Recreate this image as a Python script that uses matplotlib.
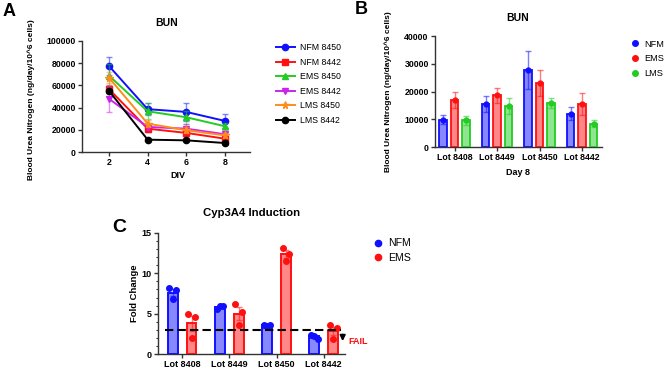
import numpy as np
import matplotlib
matplotlib.use('Agg')
import matplotlib.pyplot as plt
from matplotlib.ticker import MultipleLocator

plt.rcParams['font.family'] = ['Liberation Sans', 'DejaVu Sans']

# ── Datos panel A: BUN vs DIV ───────────────────────────────────────────────
div = [2, 4, 6, 8]
a_names = ['NFM 8450', 'NFM 8442', 'EMS 8450', 'EMS 8442', 'LMS 8450', 'LMS 8442']
a_means = [
    [77400, 38600, 36100, 28000],
    [56600, 21000, 17200, 12000],
    [68700, 36700, 31300, 23200],
    [47900, 22600, 21000, 16000],
    [66900, 25600, 19600, 15000],
    [55000, 11100, 10500, 8100],
]
a_errs = [
    [8000, 5500, 7800, 6500],
    [3500, 3000, 2500, 2500],
    [11000, 7000, 6000, 3000],
    [11500, 3000, 4000, 2500],
    [5000, 3000, 2500, 2000],
    [2000, 1000, 1000, 1000],
]

# ── Datos panel B: BUN día 8 ────────────────────────────────────────────────
lots = ['Lot 8408', 'Lot 8449', 'Lot 8450', 'Lot 8442']
b_nfm = [9900, 15500, 27700, 12000]
b_nfm_err = [1600, 2800, 6800, 2300]
b_ems = [16900, 18600, 23100, 15500]
b_ems_err = [2900, 2800, 4600, 3900]
b_lms = [9600, 14900, 15800, 8400]
b_lms_err = [1700, 2900, 1900, 1200]

# ── Datos panel C: inducción Cyp3A4 ─────────────────────────────────────────
c_nfm = [7.6, 5.8, 3.58, 2.2]
c_nfm_err = [0.4, 0.12, 0.05, 0.15]
c_nfm_pts = [[8.2, 7.9, 6.8], [5.6, 6.0, 5.9], [3.6, 3.65, 3.5], [2.4, 1.9, 2.2]]
c_ems = [3.8, 5.0, 12.35, 2.85]
c_ems_err = [0.9, 0.8, 0.5, 0.55]
c_ems_pts = [[5.0, 4.55, 2.0], [6.25, 5.2, 3.65], [13.2, 12.4, 11.5], [3.65, 3.2, 1.8]]
fail_line = 3

BLUE = '#1010ff'
RED = '#ff1010'
GREEN = '#22cc22'
a_colors = [BLUE, RED, GREEN, '#cc22ee', '#ff8c1a', 'black']
a_markers = ['o', 's', '^', 'v', '*', 'o']

W, H = 669, 373
fig = plt.figure(figsize=(W / 100, H / 100), dpi=100)


def px_axes(l, t, r, b):
    return fig.add_axes([l / W, 1 - b / H, (r - l) / W, (b - t) / H])


def ftext(x, y, s, **kw):
    fig.text(x / W, 1 - y / H, s, ha='center', va='center', **kw)


def style(ax, fs=6.3):
    for s in ['top', 'right']:
        ax.spines[s].set_visible(False)
    for s in ['left', 'bottom']:
        ax.spines[s].set_linewidth(1.0)
        ax.spines[s].set_color('#333333')
    ax.tick_params(length=3, width=1.0, color='#333333', labelsize=fs, pad=1.5)
    for lb in ax.get_xticklabels() + ax.get_yticklabels():
        lb.set_fontweight('bold')


# ── Panel A ─────────────────────────────────────────────────────────────────
axA = px_axes(82, 41, 250, 152)
for name, m, e, c, mk in zip(a_names, a_means, a_errs, a_colors, a_markers):
    axA.errorbar(div, m, yerr=e, fmt='none', ecolor=c, alpha=0.5,
                 elinewidth=1, capsize=2.5, capthick=1)
    axA.plot(div, m, color=c, marker=mk, ms=4.5 if mk != '*' else 5.5,
             lw=1.4, label=name)
axA.set_xlim(0.6, 9.3)
axA.set_ylim(0, 100000)
axA.set_xticks(div)
axA.set_yticks(np.arange(0, 100001, 20000))
style(axA)
axA.set_ylabel('Blood Urea Nitrogen (ng/day/10^6 cells)', fontsize=6, fontweight='bold')
axA.yaxis.set_label_coords(-0.28, 0.47)
axA.set_xlabel('DIV', fontsize=6.5, fontweight='bold')
axA.xaxis.set_label_coords(0.57, -0.17)
axA.legend(loc='upper left', bbox_to_anchor=(272 / W, 1 - 40 / H),
           bbox_transform=fig.transFigure, frameon=False, fontsize=6.3,
           handlelength=2.2, labelspacing=0.62, handletextpad=0.6,
           borderaxespad=0)
ftext(167, 23, 'BUN', fontsize=7.5, fontweight='bold')
ftext(9, 12, 'A', fontsize=13, fontweight='bold')

# ── Panel B ─────────────────────────────────────────────────────────────────
axB = px_axes(435, 36, 602, 147)
x = np.arange(len(lots))
bw, off = 0.18, 0.27
for vals, errs, c, dx, lab in [(b_nfm, b_nfm_err, BLUE, -off, 'NFM'),
                               (b_ems, b_ems_err, RED, 0, 'EMS'),
                               (b_lms, b_lms_err, GREEN, off, 'LMS')]:
    axB.bar(x + dx, vals, width=bw, color=c, alpha=0.5, zorder=2)
    axB.bar(x + dx, vals, width=bw, facecolor='none', edgecolor=c, lw=1.3, zorder=3)
    axB.errorbar(x + dx, vals, yerr=errs, fmt='none', ecolor=c, alpha=0.55,
                 elinewidth=1, capsize=2, capthick=1, zorder=4)
    axB.plot(x + dx, vals, 'o', color=c, ms=3.5, zorder=5)
    axB.plot([], [], 'o', color=c, ms=4, label=lab)
axB.set_xlim(-0.46, 3.47)
axB.set_ylim(0, 40000)
axB.set_xticks(x)
axB.set_xticklabels(lots)
axB.set_yticks(np.arange(0, 40001, 10000))
style(axB)
axB.set_ylabel('Blood Urea Nitrogen (ng/day/10^6 cells)', fontsize=6, fontweight='bold')
axB.yaxis.set_label_coords(-0.26, 0.5)
axB.set_xlabel('Day 8', fontsize=6.5, fontweight='bold')
axB.xaxis.set_label_coords(0.5, -0.19)
axB.legend(loc='upper left', bbox_to_anchor=(627 / W, 1 - 36 / H),
           bbox_transform=fig.transFigure, frameon=False, fontsize=6.6,
           handlelength=1.0, labelspacing=0.62, handletextpad=0.5,
           borderaxespad=0)
ftext(518, 18, 'BUN', fontsize=7.5, fontweight='bold')
ftext(361, 10, 'B', fontsize=13, fontweight='bold')

# ── Panel C ─────────────────────────────────────────────────────────────────
axC = px_axes(158, 233, 345, 354)
xc = np.arange(len(lots))
bwc, offc = 0.21, 0.2
jit = [-0.07, 0.07, 0.0]
for vals, errs, pts, c, dx, lab in [(c_nfm, c_nfm_err, c_nfm_pts, BLUE, -offc, 'NFM'),
                                    (c_ems, c_ems_err, c_ems_pts, RED, offc, 'EMS')]:
    axC.bar(xc + dx, vals, width=bwc, color=c, alpha=0.5, zorder=2)
    axC.bar(xc + dx, vals, width=bwc, facecolor='none', edgecolor=c, lw=1.4, zorder=3)
    axC.errorbar(xc + dx, vals, yerr=errs, fmt='none', ecolor=c, alpha=0.55,
                 elinewidth=1, capsize=2, capthick=1, zorder=4)
    for i, p in enumerate(pts):
        axC.plot(xc[i] + dx + np.array(jit), p, 'o', color=c, ms=4, zorder=5)
    axC.plot([], [], 'o', color=c, ms=4.5, label=lab)
axC.plot([-0.36, 3.36], [fail_line, fail_line], color='black', lw=1.5,
         ls=(0, (4, 2)), zorder=6)
axC.annotate('', xy=(3.4, 1.25), xytext=(3.4, 2.75),
             arrowprops=dict(arrowstyle='-|>', color='black', lw=1.3,
                             mutation_scale=8), annotation_clip=False)
axC.text(3.52, 1.5, 'FAIL', color=RED, fontsize=6.5, fontweight='bold',
         ha='left', va='center', clip_on=False)
axC.set_xlim(-0.51, 3.45)
axC.set_ylim(0, 15)
axC.set_xticks(xc)
axC.set_xticklabels(lots)
axC.set_yticks([0, 5, 10, 15])
axC.yaxis.set_minor_locator(MultipleLocator(1))
style(axC, fs=6.5)
axC.tick_params(axis='y', which='minor', length=1.8, width=0.8, color='#333333')
axC.set_ylabel('Fold Change', fontsize=6.8, fontweight='bold')
axC.yaxis.set_label_coords(-0.1, 0.5)
axC.legend(loc='upper left', bbox_to_anchor=(368 / W, 1 - 234 / H),
           bbox_transform=fig.transFigure, frameon=False, fontsize=7.6,
           handlelength=1.0, labelspacing=0.45, handletextpad=0.5,
           borderaxespad=0)
ftext(252, 213, 'Cyp3A4 Induction', fontsize=8.2, fontweight='bold')
ftext(119, 228, 'C', fontsize=14, fontweight='bold')

fig.savefig('out.png', dpi=100)
